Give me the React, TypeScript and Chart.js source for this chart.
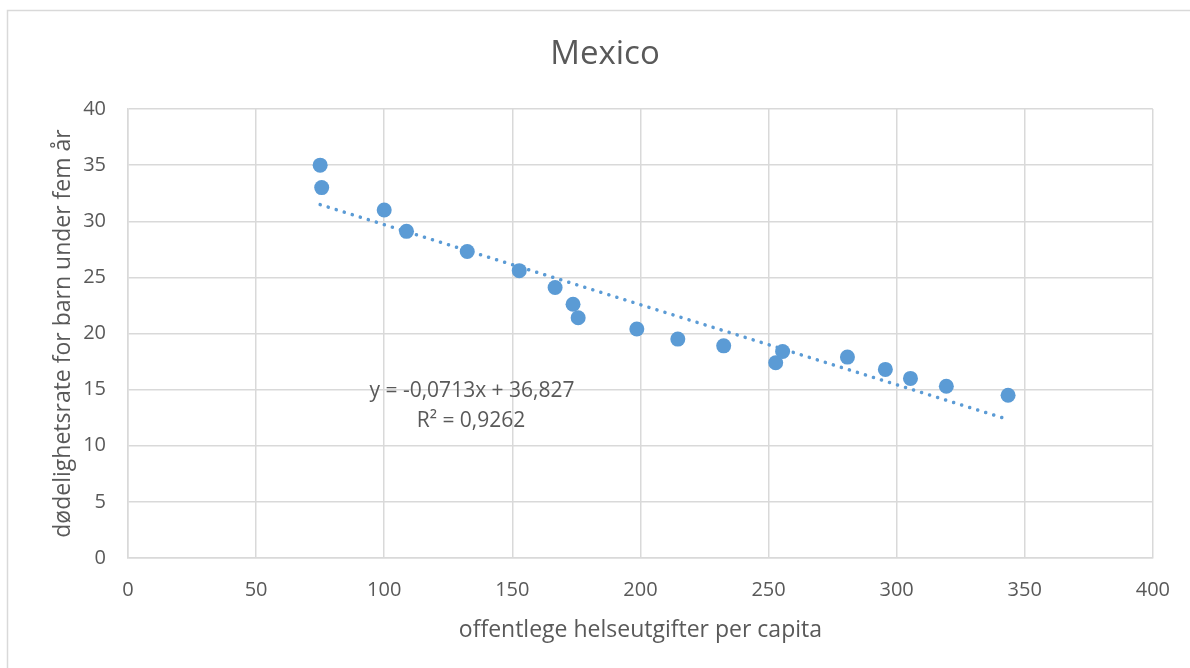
import React, { useEffect, useRef } from "react";
import { Chart, registerables } from "chart.js";

Chart.register(...registerables);

const spendX = [75, 75.6, 100, 108.7, 132.4, 152.7, 166.7, 173.7, 175.7, 198.6, 214.6, 232.5, 252.8, 255.5, 280.8, 295.6, 305.4, 319.4, 343.5];
const mortalityY = [35.0, 33.0, 31.0, 29.1, 27.3, 25.6, 24.1, 22.6, 21.4, 20.4, 19.5, 18.9, 17.4, 18.4, 17.9, 16.8, 16.0, 15.3, 14.5];
const trendX = [75, 343.5];
const trendY = [31.48, 12.34];
const titleText = "Mexico";
const xTitle = "offentlege helseutgifter per capita";
const yTitle = "dødelighetsrate for barn under fem år";
const equationLines = ["y = -0,0713x + 36,827", "R² = 0,9262"];

const FONT = "'Open Sans', 'Noto Sans', sans-serif";
const TEXT = "#595959";
const GRID = "#d9d9d9";
const BLUE = "#5b9bd5";

export default function App() {
  const ref = useRef<HTMLCanvasElement | null>(null);

  useEffect(() => {
    document.body.style.margin = "0";
    const canvas = ref.current;
    if (!canvas) return;

    const deco = {
      id: "deco",
      afterDraw(chart: any) {
        const ctx = chart.ctx as CanvasRenderingContext2D;
        const ca = chart.chartArea;
        ctx.save();
        ctx.strokeStyle = GRID;
        ctx.lineWidth = 1.5;
        ctx.beginPath();
        ctx.moveTo(7.5, 668);
        ctx.lineTo(7.5, 10.5);
        ctx.lineTo(1190, 10.5);
        ctx.stroke();

        ctx.fillStyle = TEXT;
        ctx.textAlign = "center";
        ctx.textBaseline = "middle";
        ctx.font = `33px ${FONT}`;
        ctx.fillText(titleText, 605, 55);

        ctx.font = `23px ${FONT}`;
        ctx.fillText(xTitle, (ca.left + ca.right) / 2, 630);

        ctx.save();
        ctx.translate(63, (ca.top + ca.bottom) / 2);
        ctx.rotate(-Math.PI / 2);
        ctx.fillText(yTitle, 0, 0);
        ctx.restore();

        ctx.font = `21px ${FONT}`;
        ctx.fillText(equationLines[0], 472, 391);
        ctx.fillText(equationLines[1], 471, 421);
        ctx.restore();
      },
    };

    const chart = new Chart(canvas, {
      type: "scatter",
      data: {
        datasets: [
          {
            type: "line",
            label: "trend",
            data: trendX.map((x, i) => ({ x, y: trendY[i] })),
            borderColor: BLUE,
            borderWidth: 3.5,
            borderDash: [0.1, 8.3],
            borderCapStyle: "round",
            pointRadius: 0,
            fill: false,
            order: 2,
          } as any,
          {
            label: "data",
            data: spendX.map((x, i) => ({ x, y: mortalityY[i] })),
            backgroundColor: BLUE,
            borderColor: BLUE,
            pointRadius: 7.5,
            pointBorderWidth: 0,
            order: 1,
          },
        ],
      },
      options: {
        responsive: false,
        animation: false,
        devicePixelRatio: 1,
        layout: { padding: { left: 0, right: 35, top: 109, bottom: 0 } },
        plugins: {
          legend: { display: false },
          title: { display: false },
          tooltip: { enabled: false },
        },
        scales: {
          x: {
            type: "linear",
            min: 0,
            max: 400,
            ticks: { stepSize: 50, color: TEXT, font: { family: FONT, size: 20 }, padding: 20 },
            grid: { color: GRID, lineWidth: 1.5, drawTicks: false },
            border: { color: GRID, width: 1.5 },
            afterFit: (s: any) => { s.height = 110; },
          },
          y: {
            type: "linear",
            min: 0,
            max: 40,
            ticks: { stepSize: 5, color: TEXT, font: { family: FONT, size: 20 }, padding: 22 },
            grid: { color: GRID, lineWidth: 1.5, drawTicks: false },
            border: { color: GRID, width: 1.5 },
            afterFit: (s: any) => { s.width = 128; },
          },
        },
      },
      plugins: [deco],
    });

    return () => chart.destroy();
  }, []);

  return (
    <div style={{ position: "absolute", left: 0, top: 0, width: 1190, height: 668 }}>
      <canvas ref={ref} width={1190} height={668} />
    </div>
  );
}
